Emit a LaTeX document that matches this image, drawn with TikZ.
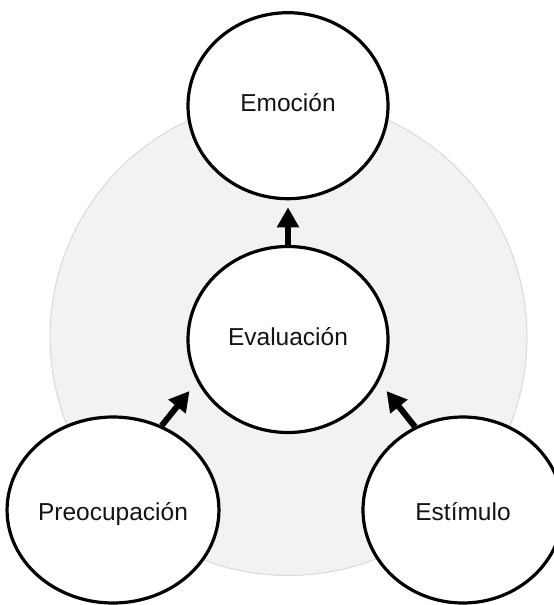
\documentclass[tikz,border=0pt]{standalone}
\usepackage{fontspec}
\setmainfont{Liberation Sans}
\usetikzlibrary{shapes.geometric,arrows.meta}
\definecolor{discfill}{RGB}{242,242,242}
\definecolor{discline}{RGB}{217,217,217}
\definecolor{labelink}{RGB}{20,20,20}
\begin{document}
\begin{tikzpicture}[x=1pt,y=-1pt,
  stage/.style={ellipse, draw=black, line width=3.2pt, fill=white,
    minimum width=200pt, minimum height=186pt, inner sep=0pt,
    text height=16pt, text depth=5pt,
    text=labelink, font=\fontsize{24.5}{28}\selectfont},
  lowstage/.style={stage, text height=25pt, text depth=5pt},
  flow/.style={line width=6pt, -{Triangle[width=21pt,length=20pt]}}]
  \clip (0,0) rectangle (554,605);
  % shaded backdrop disc
  \fill[discfill, draw=discline, line width=1pt] (288.5,337) circle[radius=238.5pt];
  % the four stages
  \node[stage]    (emo)  at (288,105.7) {Emoción};
  \node[stage]    (eval) at (288,339.5) {Evaluación};
  \node[lowstage] (prec) at (113,510)   {Preocupación};
  \node[lowstage] (stim) at (463,510)   {Estímulo};
  % arrow tips that stop short of the central stage
  \coordinate (tipL) at (189.5,391);
  \coordinate (tipR) at (386.5,391);
  % connectors
  \draw[flow, shorten >=7pt] (eval) -- (emo);
  \draw[flow] (prec.60) -- (tipL);
  \draw[flow] (stim.120) -- (tipR);
\end{tikzpicture}
\end{document}
